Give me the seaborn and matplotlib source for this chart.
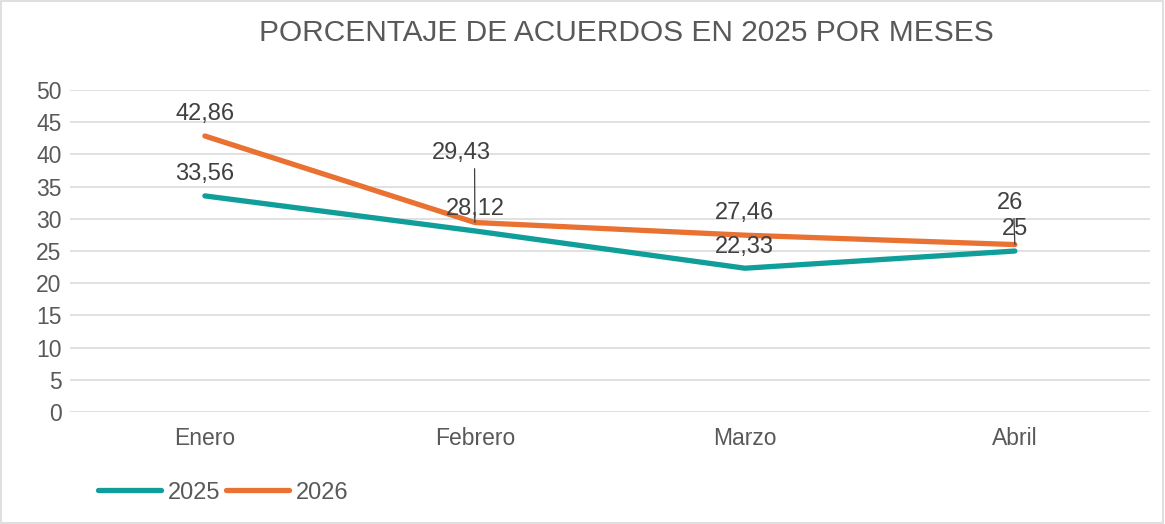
import matplotlib
matplotlib.use("Agg")
import matplotlib.pyplot as plt
import seaborn as sns
import pandas as pd
from matplotlib.patches import Rectangle
from matplotlib.lines import Line2D

months = ["Enero", "Febrero", "Marzo", "Abril"]
vals_2025 = [33.56, 28.12, 22.33, 25]
vals_2026 = [42.86, 29.43, 27.46, 26]
labels_2025 = ["33,56", "28,12", "22,33", "25"]
labels_2026 = ["42,86", "29,43", "27,46", "26"]
y_ticks = [0, 5, 10, 15, 20, 25, 30, 35, 40, 45, 50]
title = "PORCENTAJE DE ACUERDOS EN 2025 POR MESES"

sns.set_theme(style="white")
plt.rcParams["font.family"] = ["Liberation Sans", "DejaVu Sans"]

df = pd.DataFrame({
    "Mes": months * 2,
    "Valor": vals_2025 + vals_2026,
    "Año": ["2025"] * 4 + ["2026"] * 4,
})

c25 = "#0F9E99"
c26 = "#E97132"
txt = "#404040"
tick_c = "#595959"

fig = plt.figure(figsize=(11.65, 5.24), dpi=100)
ax = fig.add_axes([0.060, 0.2137, 0.927, 0.6145])

sns.lineplot(data=df, x="Mes", y="Valor", hue="Año", palette=[c25, c26],
             linewidth=3.8, sort=False, ax=ax, legend=False,
             solid_capstyle="round")

ax.set_xlim(-0.5, 3.5)
ax.set_ylim(0, 50)
ax.set_yticks(y_ticks)
ax.set_xticks(range(len(months)))
ax.set_xticklabels(months)
ax.set_xlabel("")
ax.set_ylabel("")
ax.grid(axis="y", color="#D9D9D9", linewidth=1.1)
ax.set_axisbelow(True)
for s in ax.spines.values():
    s.set_visible(False)
ax.tick_params(axis="both", length=0, labelsize=16.5, labelcolor=tick_c)
ax.tick_params(axis="y", pad=6)
ax.tick_params(axis="x", pad=11)

# data labels 2025
off25 = [16, 16, 15, 16]
for i, (v, l) in enumerate(zip(vals_2025, labels_2025)):
    ax.annotate(l, (i, v), xytext=(0, off25[i]), textcoords="offset points",
                ha="center", va="center", fontsize=17, color=txt)

# data labels 2026
off26 = [(0, 16), (-10, 50), (0, 16), (-3.6, 30)]
leader_relx = [None, 0.73, None, 0.65]
for i, (v, l) in enumerate(zip(vals_2026, labels_2026)):
    kw = {}
    if leader_relx[i] is not None:
        kw["arrowprops"] = dict(arrowstyle="-", color=txt, lw=0.9,
                                shrinkA=1, shrinkB=0,
                                relpos=(leader_relx[i], 0.0))
    ax.annotate(l, (i, v), xytext=off26[i], textcoords="offset points",
                ha="center", va="center", fontsize=17, color=txt, **kw)

fig.text(0.538, 0.937, title, ha="center", va="center", fontsize=21.5,
         color=tick_c)

handles = [Line2D([], [], color=c25, lw=3.8, solid_capstyle="round"),
           Line2D([], [], color=c26, lw=3.8, solid_capstyle="round")]
fig.legend(handles, ["2025", "2026"], loc="center left",
           bbox_to_anchor=(0.066, 0.06), ncol=2, frameon=False,
           fontsize=17, labelcolor=tick_c, handlelength=2.65,
           handletextpad=0.3, columnspacing=0.25)

fig.patches.append(Rectangle((0.001, 0.001), 0.997, 0.997,
                             transform=fig.transFigure, fill=False,
                             edgecolor="#D9D9D9", linewidth=1.2))

fig.savefig("out.png", dpi=100)
